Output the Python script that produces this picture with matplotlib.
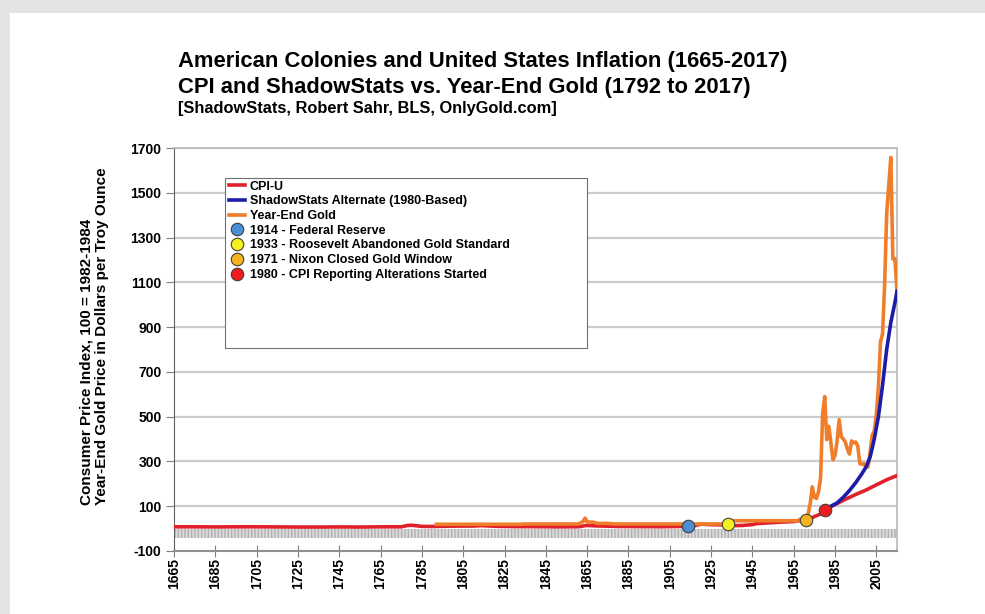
import matplotlib
matplotlib.use("Agg")
import matplotlib.pyplot as plt
from matplotlib.patches import Rectangle

plt.rcParams['font.family'] = ['Liberation Sans', 'DejaVu Sans']

# ---------------- data ----------------
cpi_years = [1665, 1675, 1685, 1695, 1705, 1715, 1725, 1735, 1745, 1755, 1765, 1770, 1775,
             1778, 1780, 1785, 1790, 1800, 1805, 1810, 1814, 1820, 1830, 1840, 1850, 1860,
             1862, 1864, 1865, 1870, 1880, 1890, 1900, 1910, 1914, 1917, 1920, 1925, 1930,
             1933, 1940, 1945, 1947, 1950, 1955, 1960, 1965, 1970, 1973, 1975, 1978, 1980,
             1985, 1990, 1995, 2000, 2005, 2010, 2015]
cpi_values = [8, 8, 7.5, 8, 8, 7.5, 7, 7, 7.5, 7, 8, 8, 8,
              14, 15, 10, 9.5, 11, 11.5, 11.5, 13.5, 10.5, 9, 8.7, 7.8, 8.2,
              9.5, 13.5, 14, 12, 9.6, 8.9, 8.4, 9.5, 10, 12.8, 20, 17.5, 16.7,
              13, 14, 18, 22.3, 24.1, 26.8, 29.6, 31.5, 38.8, 44.4, 53.8, 65.2, 82.4,
              107.6, 130.7, 152.4, 172.2, 195.3, 218.1, 237.0]

shadow_years = [1980, 1983, 1986, 1989, 1992, 1995, 1998, 2000, 2002, 2004, 2006, 2008,
                2010, 2012, 2014, 2015]
shadow_values = [82.4, 100, 115, 140, 170, 205, 245, 275, 320, 400, 500, 640,
                 800, 920, 1010, 1060]

gold_years = [1792, 1833, 1834, 1861, 1862, 1863, 1864, 1865, 1866, 1868, 1870, 1872, 1875,
              1878, 1879, 1932, 1933, 1934, 1967, 1968, 1969, 1970, 1971, 1972, 1973, 1974,
              1975, 1976, 1977, 1978, 1979, 1980, 1981, 1982, 1983, 1984, 1985, 1986, 1987,
              1988, 1989, 1990, 1991, 1992, 1993, 1994, 1995, 1996, 1997, 1998, 1999, 2000,
              2001, 2002, 2003, 2004, 2005, 2006, 2007, 2008, 2009, 2010, 2011, 2012, 2013,
              2014, 2015]
gold_values = [19.39, 19.39, 20.67, 20.67, 27.0, 31.3, 47.0, 30.0, 29.5, 28.5, 23.2, 23.2, 23.4,
               20.8, 20.67, 20.67, 26.33, 35.0, 35.0, 41.9, 35.2, 37.4, 43.6, 64.9, 112.3, 186.5,
               140.3, 134.5, 164.95, 226.0, 512.0, 589.75, 397.5, 456.9, 382.4, 308.3, 327.0,
               390.9, 486.5, 410.2, 401.0, 386.2, 353.2, 333.0, 391.8, 383.3, 387.0, 369.3,
               290.2, 287.8, 290.3, 272.7, 276.5, 342.8, 417.3, 435.6, 513.0, 632.0, 833.8,
               869.8, 1087.5, 1405.5, 1531.0, 1657.5, 1204.5, 1206.0, 1060.0]

event_years = [1914, 1933, 1971, 1980]
event_values = [10, 22, 40, 82.4]
event_labels = ['1914 - Federal Reserve', '1933 - Roosevelt Abandoned Gold Standard',
                '1971 - Nixon Closed Gold Window', '1980 - CPI Reporting Alterations Started']
event_colors = ['#4a8fd4', '#f4f01e', '#f5b21e', '#ee1c1c']

series_labels = ['CPI-U', 'ShadowStats Alternate (1980-Based)', 'Year-End Gold']
x_ticks = list(range(1665, 2006, 20))
y_ticks = list(range(-100, 1701, 200))

title_lines = ['American Colonies and United States Inflation (1665-2017)',
               'CPI and ShadowStats vs. Year-End Gold (1792 to 2017)',
               '[ShadowStats, Robert Sahr, BLS, OnlyGold.com]']
y_label = 'Consumer Price Index, 100 = 1982-1984\nYear-End Gold Price in Dollars per Troy Ounce'

# ---------------- figure ----------------
fig = plt.figure(figsize=(9.85, 6.14), dpi=100)
fig.patch.set_facecolor('#e4e4e4')
card = Rectangle((10 / 985, 0), 1, 1 - 13 / 614, transform=fig.transFigure,
                 facecolor='white', edgecolor='none', zorder=-10)
fig.patches.append(card)

ax = fig.add_axes([174 / 985, 1 - 551 / 614, 723 / 985, 403 / 614])
ax.set_facecolor('white')

# gray hatched band below zero
ax.fill_between([1665, 2015], -40, 0, facecolor='#dcdcdc', edgecolor='#b0b0b0',
                hatch='|||||', linewidth=0, zorder=1)

for yv in y_ticks[1:]:
    ax.axhline(yv, color='#cccccc', linewidth=1.6, zorder=1)

l_cpi, = ax.plot(cpi_years, cpi_values, color='#e0202a', linewidth=2.6, zorder=3,
                 label=series_labels[0])
l_sh, = ax.plot(shadow_years, shadow_values, color='#1c1ca8', linewidth=2.6, zorder=4,
                label=series_labels[1])
l_gold, = ax.plot(gold_years, gold_values, color='#f07d2a', linewidth=2.6, zorder=3.5,
                  label=series_labels[2])

ev_handles = []
for yr, val, lab, col in zip(event_years, event_values, event_labels, event_colors):
    h, = ax.plot([yr], [val], marker='o', markersize=9, markerfacecolor=col,
                 markeredgecolor='#404040', markeredgewidth=0.8, linestyle='none',
                 zorder=6, label=lab)
    ev_handles.append(h)

ax.set_xlim(1665, 2015)
ax.set_ylim(-100, 1700)
ax.set_xticks(x_ticks)
ax.set_xticklabels([str(t) for t in x_ticks], rotation=90, fontsize=10, fontweight='bold')
ax.set_yticks(y_ticks)
ax.set_yticklabels([str(t) for t in y_ticks], fontsize=10, fontweight='bold')
ax.tick_params(axis='y', direction='out', length=6, width=0.8, color='#808080', pad=3)
ax.tick_params(axis='x', direction='inout', length=8, width=0.8, color='#808080', pad=1)

for s in ['top', 'right']:
    ax.spines[s].set_color('#b8b8b8')
    ax.spines[s].set_linewidth(1.2)
ax.spines['left'].set_color('#606060')
ax.spines['bottom'].set_color('#909090')
ax.spines['bottom'].set_linewidth(1.5)

fig.text(94.5 / 985, 1 - 336 / 614, y_label, rotation=90, fontsize=11, fontweight='bold',
         ha='center', va='center', multialignment='left', linespacing=1.1)

# legend box
x0 = (225 - 174) / 723
x1 = (587 - 174) / 723
yt = (551 - 178) / 403
yb = (551 - 348) / 403
ax.add_patch(Rectangle((x0, yb), x1 - x0, yt - yb, transform=ax.transAxes,
                       facecolor='white', edgecolor='#707070', linewidth=0.8, zorder=7))
leg = ax.legend(handles=[l_cpi, l_sh, l_gold] + ev_handles, loc='upper left',
                bbox_to_anchor=(x0 + 0.002, yt), frameon=False,
                prop={'size': 9, 'weight': 'bold'}, handlelength=1.3, handletextpad=0.35,
                labelspacing=0.22, borderaxespad=0, borderpad=0.2)
leg.set_zorder(8)

# titles
fig.text(178 / 985, 1 - 62 / 614, title_lines[0], fontsize=15.8, fontweight='bold',
         ha='left', va='center')
fig.text(178 / 985, 1 - 87 / 614, title_lines[1], fontsize=15.8, fontweight='bold',
         ha='left', va='center')
fig.text(178 / 985, 1 - 108 / 614, title_lines[2], fontsize=11.8, fontweight='bold',
         ha='left', va='center')

fig.savefig('out.png', dpi=100, facecolor=fig.get_facecolor())
